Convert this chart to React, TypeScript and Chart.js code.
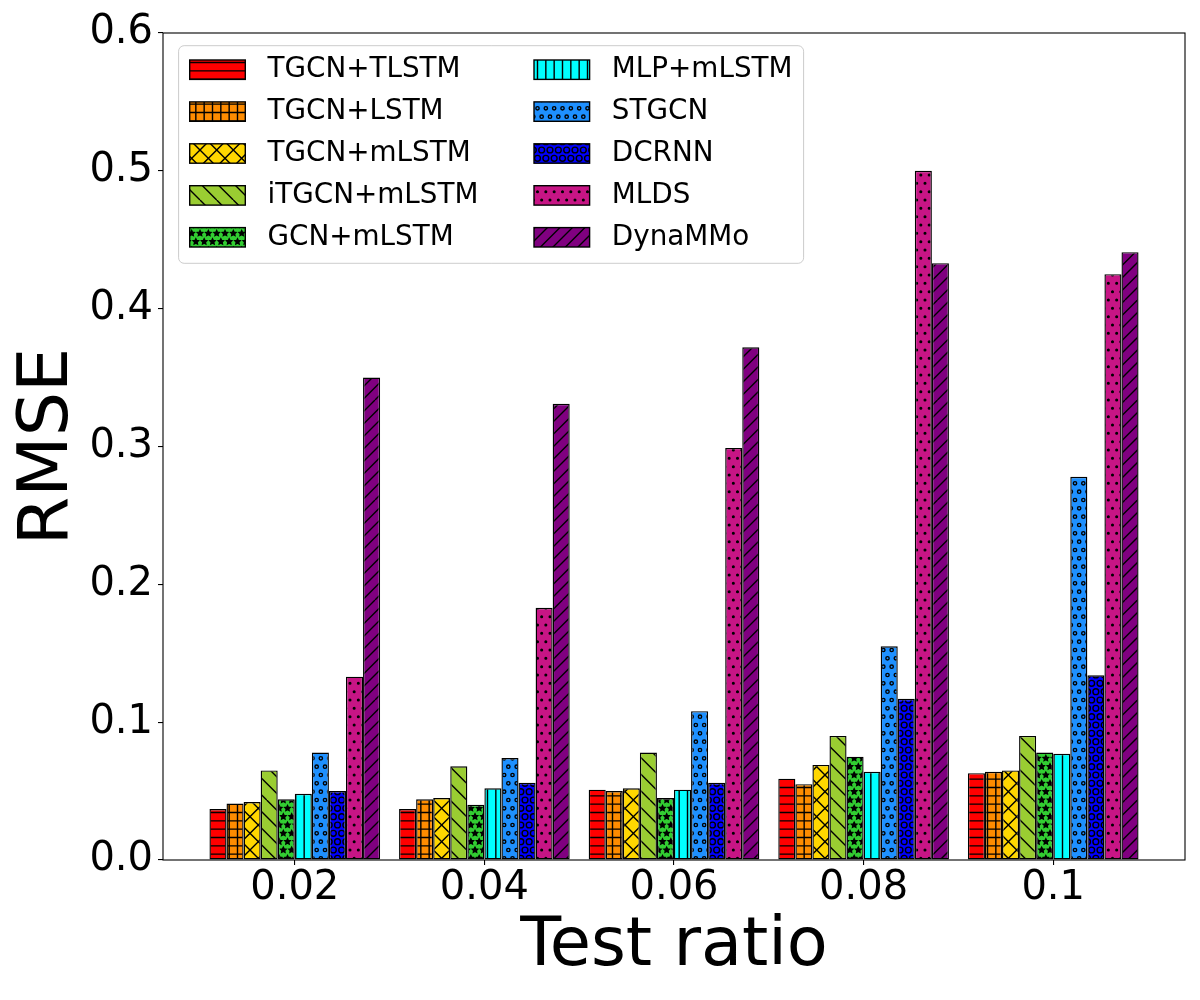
import { useEffect, useRef } from "react";
import { Chart, registerables } from "chart.js";

Chart.register(...registerables);

Chart.defaults.font.family = "'DejaVu Sans', sans-serif";
Chart.defaults.color = "#000";

// test ratios on the x axis
const ratios = ["0.02", "0.04", "0.06", "0.08", "0.1"];

// RMSE per method, one value per test ratio
const tgcnTlstm = [0.037, 0.037, 0.051, 0.059, 0.063];
const tgcnLstm = [0.041, 0.044, 0.05, 0.055, 0.064];
const tgcnMlstm = [0.042, 0.045, 0.052, 0.069, 0.065];
const itgcnMlstm = [0.065, 0.068, 0.078, 0.09, 0.09];
const gcnMlstm = [0.044, 0.04, 0.045, 0.075, 0.078];
const mlpMlstm = [0.048, 0.052, 0.051, 0.064, 0.077];
const stgcn = [0.078, 0.074, 0.108, 0.155, 0.278];
const dcrnn = [0.05, 0.056, 0.056, 0.117, 0.134];
const mlds = [0.133, 0.183, 0.299, 0.5, 0.425];
const dynammo = [0.35, 0.331, 0.372, 0.433, 0.441];

const series = [
  { name: "TGCN+TLSTM", values: tgcnTlstm },
  { name: "TGCN+LSTM", values: tgcnLstm },
  { name: "TGCN+mLSTM", values: tgcnMlstm },
  { name: "iTGCN+mLSTM", values: itgcnMlstm },
  { name: "GCN+mLSTM", values: gcnMlstm },
  { name: "MLP+mLSTM", values: mlpMlstm },
  { name: "STGCN", values: stgcn },
  { name: "DCRNN", values: dcrnn },
  { name: "MLDS", values: mlds },
  { name: "DynaMMo", values: dynammo },
];

type Hatch = "hline" | "grid" | "cross" | "back" | "star" | "vline" | "ring" | "bigring" | "dot" | "fwd";

const styles: { color: string; hatch: Hatch }[] = [
  { color: "#ff0000", hatch: "hline" },
  { color: "#ff8c00", hatch: "grid" },
  { color: "#ffd700", hatch: "cross" },
  { color: "#9acd32", hatch: "back" },
  { color: "#32cd32", hatch: "star" },
  { color: "#00ffff", hatch: "vline" },
  { color: "#1e90ff", hatch: "ring" },
  { color: "#0000ff", hatch: "bigring" },
  { color: "#c71585", hatch: "dot" },
  { color: "#800080", hatch: "fwd" },
];

// matplotlib-like hatch tile (100px unit)
function makeHatch(kind: Hatch, color: string): CanvasPattern {
  const T = 100;
  const c = document.createElement("canvas");
  c.width = T;
  c.height = T;
  const g = c.getContext("2d")!;
  g.fillStyle = color;
  g.fillRect(0, 0, T, T);
  g.strokeStyle = "#000";
  g.fillStyle = "#000";
  g.lineWidth = 1.4;

  const lines = (n: number, dir: string) => {
    const p = T / n;
    g.beginPath();
    if (dir === "h")
      for (let i = 0; i < n; i++) {
        const y = (i + 0.5) * p;
        g.moveTo(0, y);
        g.lineTo(T, y);
      }
    if (dir === "v")
      for (let i = 0; i < n; i++) {
        const x = (i + 0.5) * p;
        g.moveTo(x, 0);
        g.lineTo(x, T);
      }
    if (dir === "/")
      for (let k = 0; k <= 2 * n; k++) {
        g.moveTo(k * p, 0);
        g.lineTo(k * p - T, T);
      }
    if (dir === "\\")
      for (let k = -n; k <= n; k++) {
        g.moveTo(k * p, 0);
        g.lineTo(k * p + T, T);
      }
    g.stroke();
  };

  const shapes = (n: number, draw: (x: number, y: number, p: number) => void) => {
    const p = T / n;
    for (let r = 0; r <= n; r++) {
      const y = r * p;
      if (r % 2 === 0) for (let j = 0; j <= n; j++) draw(j * p, y, p);
      else for (let j = 0; j < n; j++) draw((j + 0.5) * p, y, p);
    }
  };

  const circle = (rf: number, fill: boolean) => (x: number, y: number, p: number) => {
    g.beginPath();
    g.arc(x, y, rf * p, 0, Math.PI * 2);
    if (fill) g.fill();
    g.stroke();
  };

  const star = (x: number, y: number, p: number) => {
    const R = p / 3;
    g.beginPath();
    for (let i = 0; i < 10; i++) {
      const r = i % 2 === 0 ? R : R * 0.5;
      const a = -Math.PI / 2 + (i * Math.PI) / 5;
      const px = x + r * Math.cos(a);
      const py = y + r * Math.sin(a);
      if (i === 0) g.moveTo(px, py);
      else g.lineTo(px, py);
    }
    g.closePath();
    g.fill();
    g.stroke();
  };

  switch (kind) {
    case "hline":
      lines(12, "h");
      break;
    case "grid":
      lines(12, "h");
      lines(12, "v");
      break;
    case "cross":
      lines(6, "/");
      lines(6, "\\");
      break;
    case "back":
      lines(6, "\\");
      break;
    case "star":
      shapes(12, star);
      break;
    case "vline":
      lines(12, "v");
      break;
    case "ring":
      shapes(12, circle(0.2, false));
      break;
    case "bigring":
      shapes(12, circle(0.35, false));
      break;
    case "dot":
      shapes(12, circle(0.1, true));
      break;
    case "fwd":
      lines(8, "/");
      break;
  }
  return g.createPattern(c, "repeat")!;
}

const framePlugin = {
  id: "frame",
  afterDatasetsDraw(chart: any) {
    const { ctx, chartArea: a } = chart;
    ctx.save();
    ctx.strokeStyle = "#000";
    ctx.lineWidth = 1.1;
    ctx.strokeRect(a.left, a.top, a.right - a.left, a.bottom - a.top);
    ctx.restore();
  },
};

// two-column legend in the upper left of the plot, like matplotlib's ncol=2
const boxLegendPlugin = {
  id: "boxLegend",
  afterDraw(chart: any) {
    const { ctx, chartArea } = chart;
    const fs = 27.8;
    const handleW = 55.6;
    const handleH = 19.4;
    const pad = 11.1;
    const textPad = 22.2;
    const colGap = 55.6;
    const rowPitch = 41.9;
    const firstRow = 24;
    const perCol = 5;

    ctx.save();
    ctx.font = `${fs}px 'DejaVu Sans', sans-serif`;
    const ds = chart.data.datasets;
    const cols = [ds.slice(0, perCol), ds.slice(perCol)];
    const colW = cols.map(
      (col: any[]) => handleW + textPad + Math.max(...col.map((d) => ctx.measureText(d.label).width))
    );
    const x0 = chartArea.left + 15.6;
    const y0 = chartArea.top + 12.7;
    const w = pad * 2 + colW[0] + colGap + colW[1];
    const h = firstRow * 2 + rowPitch * (perCol - 1) + 2;

    const r = 5.5;
    ctx.beginPath();
    ctx.moveTo(x0 + r, y0);
    ctx.arcTo(x0 + w, y0, x0 + w, y0 + h, r);
    ctx.arcTo(x0 + w, y0 + h, x0, y0 + h, r);
    ctx.arcTo(x0, y0 + h, x0, y0, r);
    ctx.arcTo(x0, y0, x0 + w, y0, r);
    ctx.closePath();
    ctx.fillStyle = "rgba(255,255,255,0.8)";
    ctx.fill();
    ctx.strokeStyle = "#cccccc";
    ctx.lineWidth = 1;
    ctx.stroke();

    let cx = x0 + pad;
    cols.forEach((col: any[], ci: number) => {
      col.forEach((d, ri) => {
        const cy = y0 + firstRow + ri * rowPitch;
        ctx.fillStyle = d.backgroundColor;
        ctx.fillRect(cx, cy - handleH / 2, handleW, handleH);
        ctx.strokeStyle = "#000";
        ctx.lineWidth = 1.4;
        ctx.strokeRect(cx, cy - handleH / 2, handleW, handleH);
        ctx.fillStyle = "#000";
        ctx.textAlign = "left";
        ctx.textBaseline = "middle";
        ctx.fillText(d.label, cx + handleW + textPad, cy);
      });
      cx += colW[ci] + colGap;
    });
    ctx.restore();
  },
};

export default function App() {
  const canvasRef = useRef<HTMLCanvasElement>(null);
  const chartRef = useRef<Chart | null>(null);

  useEffect(() => {
    if (!canvasRef.current) return;
    if (chartRef.current) chartRef.current.destroy();

    const tickGrid = {
      display: true,
      drawOnChartArea: false,
      drawTicks: true,
      offset: false,
      tickLength: 5,
      color: "#000",
      lineWidth: 1.1,
    };

    chartRef.current = new Chart(canvasRef.current, {
      type: "bar",
      data: {
        datasets: series.map((s, i) => ({
          label: s.name,
          data: s.values.map((v, j) => ({ x: j, y: v })),
          backgroundColor: makeHatch(styles[i].hatch, styles[i].color),
          borderColor: "#000",
          borderWidth: 1.4,
          borderSkipped: false,
          categoryPercentage: 0.9,
          barPercentage: 1.0,
        })),
      },
      options: {
        animation: false,
        responsive: false,
        events: [],
        layout: { padding: { left: 0, top: 33, right: 15, bottom: 0 } },
        plugins: {
          legend: { display: false },
          tooltip: { enabled: false },
        },
        scales: {
          x: {
            type: "linear",
            min: -0.695,
            max: 4.695,
            offset: false,
            grid: tickGrid,
            border: { display: false },
            ticks: {
              stepSize: 1,
              includeBounds: false,
              autoSkip: false,
              maxRotation: 0,
              padding: 0,
              font: { size: 40 },
              color: "#000",
              callback: (v: any) => ratios[v as number] ?? "",
            },
            title: {
              display: true,
              text: "Test ratio",
              font: { size: 67 },
              color: "#000",
              padding: { top: 0, bottom: 12 },
            },
            afterBuildTicks: (s: any) => {
              s.ticks = s.ticks.filter((t: any) => Number.isInteger(t.value));
            },
            afterFit: (s: any) => {
              s.height = 140;
            },
          },
          y: {
            min: 0,
            max: 0.6,
            grid: tickGrid,
            border: { display: false },
            ticks: {
              stepSize: 0.1,
              padding: 5,
              font: { size: 40 },
              color: "#000",
              callback: (v: any) => Number(v).toFixed(1),
            },
            title: {
              display: true,
              text: "RMSE",
              font: { size: 70 },
              color: "#000",
              padding: { top: 7, bottom: 0 },
            },
            afterFit: (s: any) => {
              s.width = 163;
            },
          },
        },
      } as any,
      plugins: [framePlugin, boxLegendPlugin],
    });

    return () => {
      chartRef.current?.destroy();
      chartRef.current = null;
    };
  }, []);

  return (
    <div style={{ position: "absolute", left: 0, top: 0, width: 1200, height: 1000, background: "#fff" }}>
      <canvas ref={canvasRef} width={1200} height={1000} />
    </div>
  );
}
